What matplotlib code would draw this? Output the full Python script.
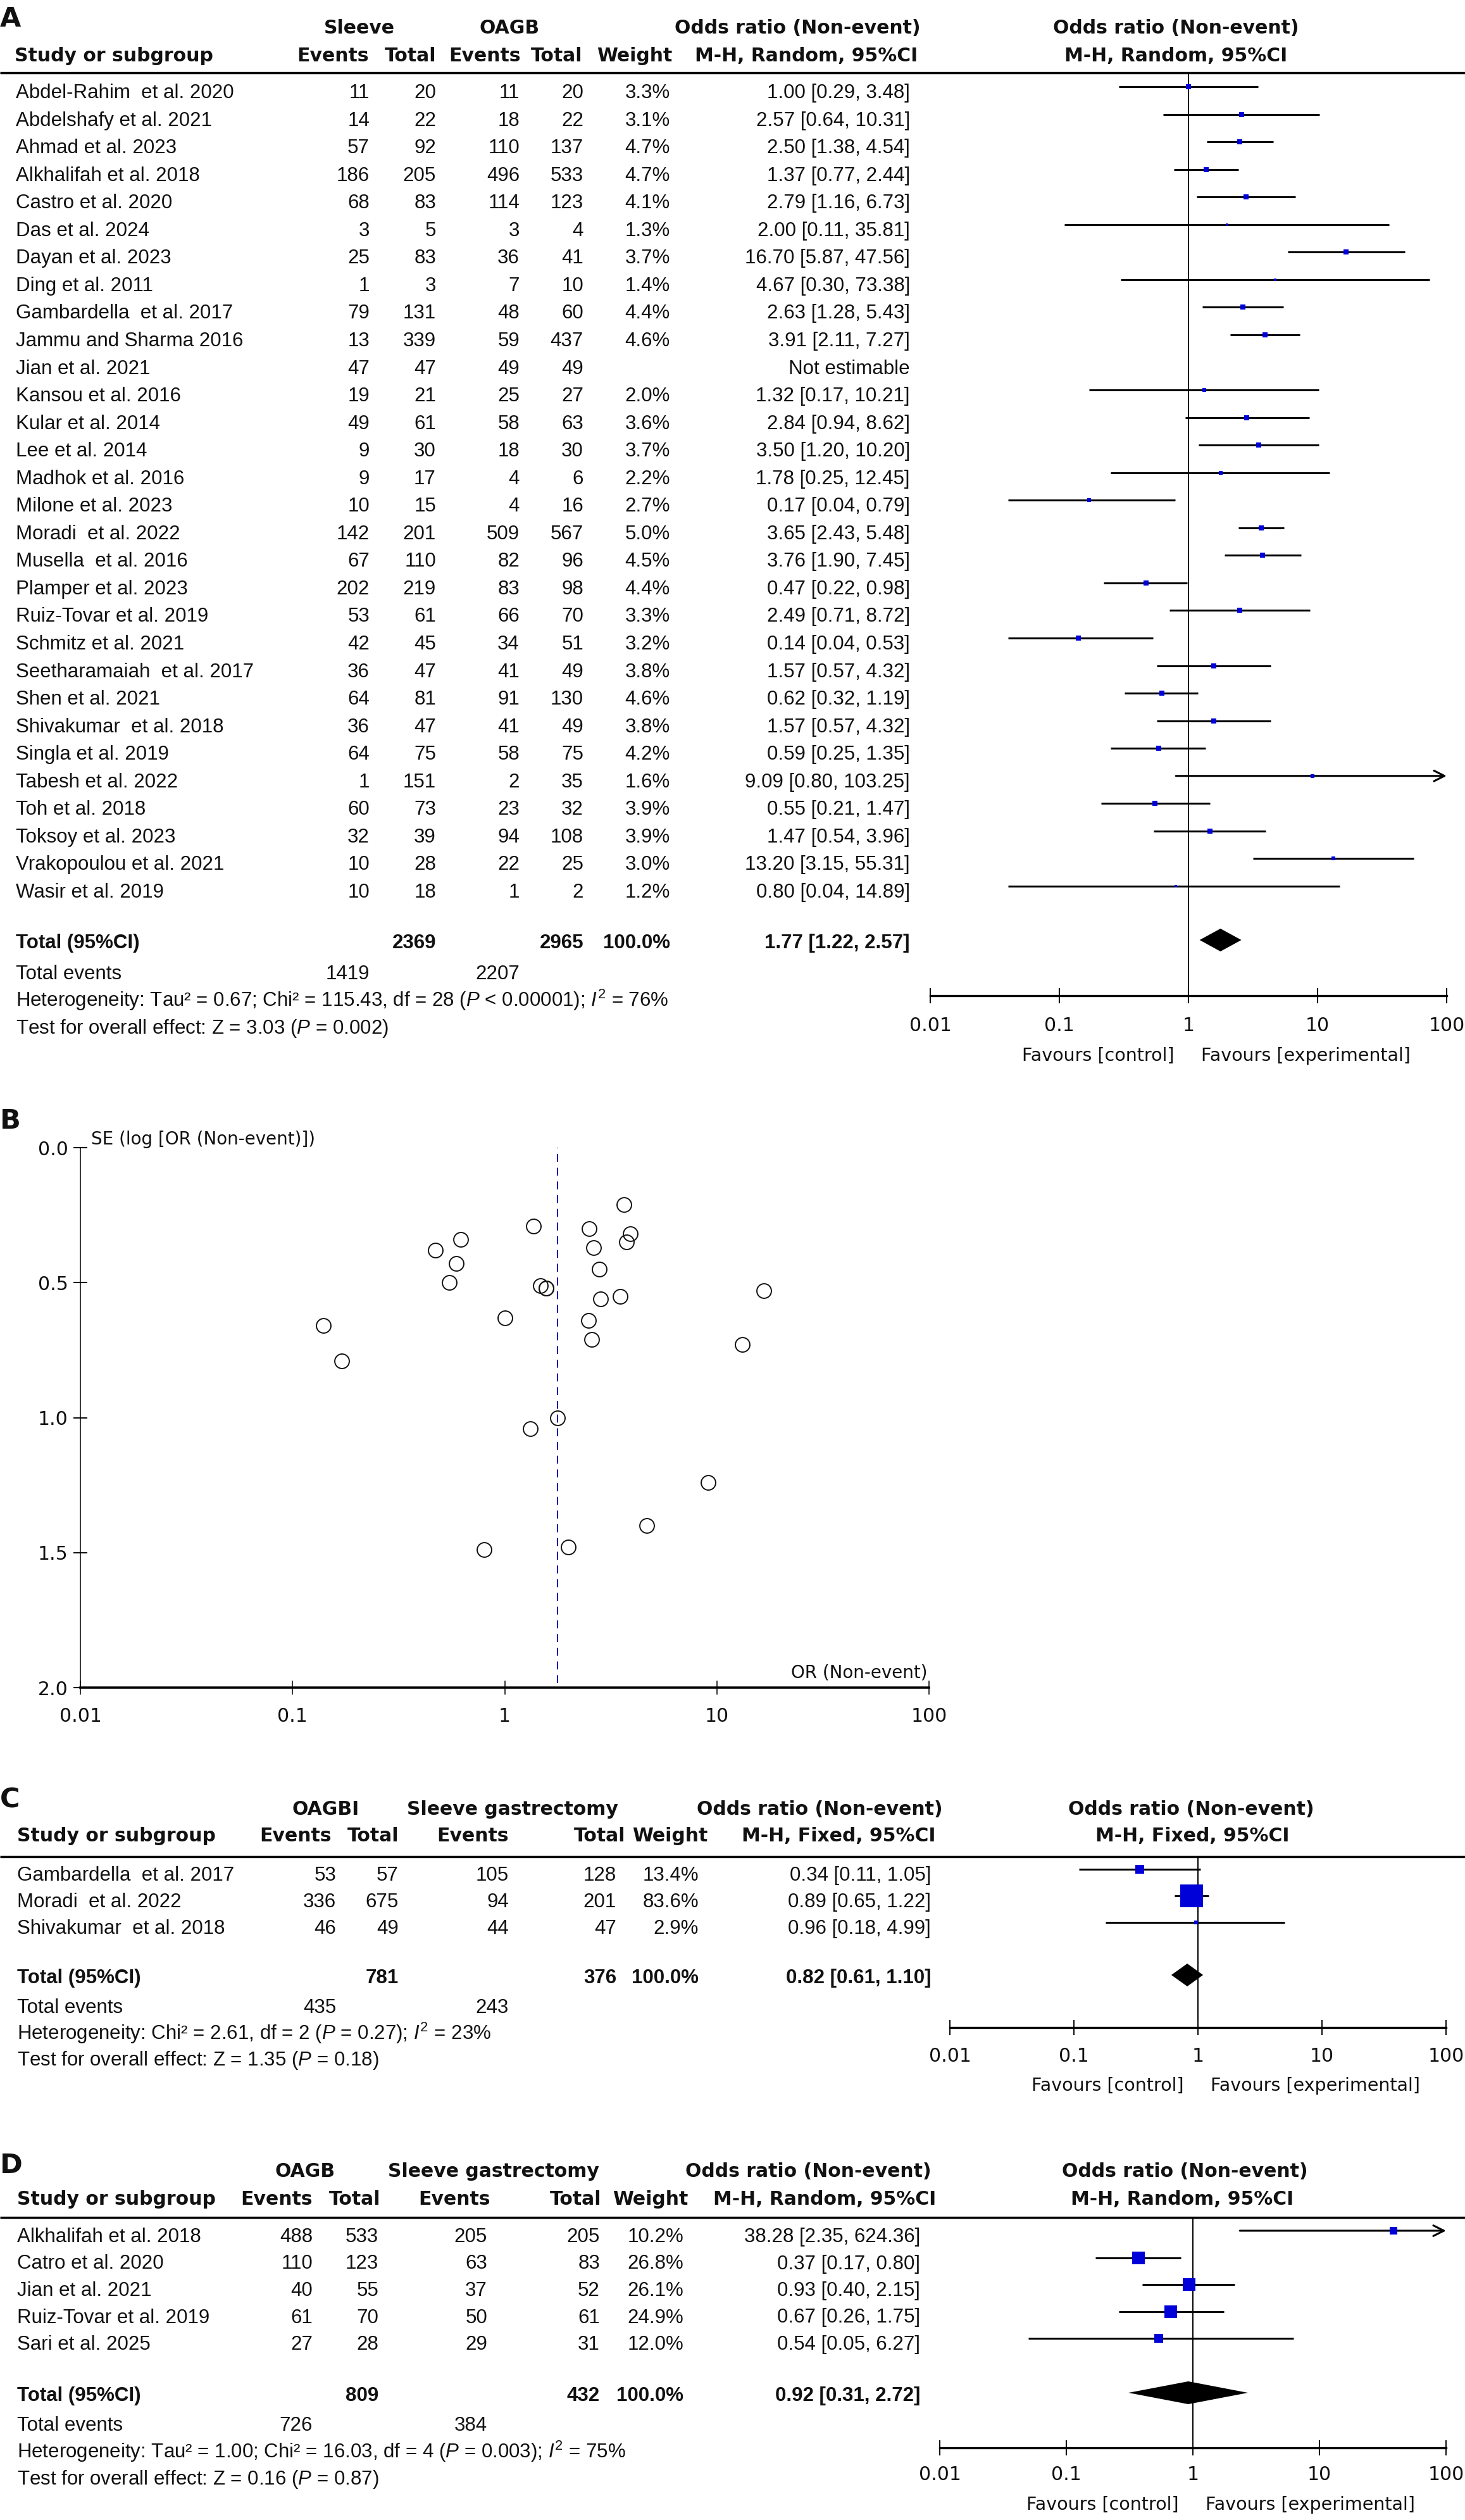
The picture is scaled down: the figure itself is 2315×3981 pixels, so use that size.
import numpy as np
import matplotlib
matplotlib.use('Agg')
import matplotlib.pyplot as plt
from matplotlib.ticker import NullLocator

#------------------------------------------------------------------------------#
'''
Forest plots (A, C, D) and funnel plot (B): non-event odds ratios,
sleeve gastrectomy vs OAGB.
'''
#------------------------------------------------------------------------------#

# Panel A: Sleeve vs OAGB
a_study = ['Abdel-Rahim  et al. 2020', 'Abdelshafy et al. 2021', 'Ahmad et al. 2023',
           'Alkhalifah et al. 2018', 'Castro et al. 2020', 'Das et al. 2024',
           'Dayan et al. 2023', 'Ding et al. 2011', 'Gambardella  et al. 2017',
           'Jammu and Sharma 2016', 'Jian et al. 2021', 'Kansou et al. 2016',
           'Kular et al. 2014', 'Lee et al. 2014', 'Madhok et al. 2016',
           'Milone et al. 2023', 'Moradi  et al. 2022', 'Musella  et al. 2016',
           'Plamper et al. 2023', 'Ruiz-Tovar et al. 2019', 'Schmitz et al. 2021',
           'Seetharamaiah  et al. 2017', 'Shen et al. 2021', 'Shivakumar  et al. 2018',
           'Singla et al. 2019', 'Tabesh et al. 2022', 'Toh et al. 2018',
           'Toksoy et al. 2023', 'Vrakopoulou et al. 2021', 'Wasir et al. 2019']
a_ev1  = [11, 14, 57, 186, 68, 3, 25, 1, 79, 13, 47, 19, 49, 9, 9,
          10, 142, 67, 202, 53, 42, 36, 64, 36, 64, 1, 60, 32, 10, 10]
a_tot1 = [20, 22, 92, 205, 83, 5, 83, 3, 131, 339, 47, 21, 61, 30, 17,
          15, 201, 110, 219, 61, 45, 47, 81, 47, 75, 151, 73, 39, 28, 18]
a_ev2  = [11, 18, 110, 496, 114, 3, 36, 7, 48, 59, 49, 25, 58, 18, 4,
          4, 509, 82, 83, 66, 34, 41, 91, 41, 58, 2, 23, 94, 22, 1]
a_tot2 = [20, 22, 137, 533, 123, 4, 41, 10, 60, 437, 49, 27, 63, 30, 6,
          16, 567, 96, 98, 70, 51, 49, 130, 49, 75, 35, 32, 108, 25, 2]
a_weight = [3.3, 3.1, 4.7, 4.7, 4.1, 1.3, 3.7, 1.4, 4.4, 4.6, np.nan, 2.0, 3.6, 3.7, 2.2,
            2.7, 5.0, 4.5, 4.4, 3.3, 3.2, 3.8, 4.6, 3.8, 4.2, 1.6, 3.9, 3.9, 3.0, 1.2]
a_or = [1.00, 2.57, 2.50, 1.37, 2.79, 2.00, 16.70, 4.67, 2.63, 3.91, np.nan, 1.32, 2.84, 3.50, 1.78,
        0.17, 3.65, 3.76, 0.47, 2.49, 0.14, 1.57, 0.62, 1.57, 0.59, 9.09, 0.55, 1.47, 13.20, 0.80]
a_lo = [0.29, 0.64, 1.38, 0.77, 1.16, 0.11, 5.87, 0.30, 1.28, 2.11, np.nan, 0.17, 0.94, 1.20, 0.25,
        0.04, 2.43, 1.90, 0.22, 0.71, 0.04, 0.57, 0.32, 0.57, 0.25, 0.80, 0.21, 0.54, 3.15, 0.04]
a_hi = [3.48, 10.31, 4.54, 2.44, 6.73, 35.81, 47.56, 73.38, 5.43, 7.27, np.nan, 10.21, 8.62, 10.20, 12.45,
        0.79, 5.48, 7.45, 0.98, 8.72, 0.53, 4.32, 1.19, 4.32, 1.35, 103.25, 1.47, 3.96, 55.31, 14.89]
a_totals = [2369, 2965]
a_events = [1419, 2207]
a_pooled = [1.77, 1.22, 2.57]
a_het  = r'Heterogeneity: Tau² = 0.67; Chi² = 115.43, df = 28 ($P$ < 0.00001); $I^2$ = 76%'
a_test = r'Test for overall effect: Z = 3.03 ($P$ = 0.002)'

# Panel B: funnel plot (OR, SE of log OR)
b_or = [1.00, 2.57, 2.50, 1.37, 2.79, 2.00, 16.70, 4.67, 2.63, 3.91, 1.32, 2.84, 3.50, 1.78, 0.17,
        3.65, 3.76, 0.47, 2.49, 0.14, 1.57, 0.62, 1.57, 0.59, 9.09, 0.55, 1.47, 13.20, 0.80]
b_se = [0.63, 0.71, 0.30, 0.29, 0.45, 1.48, 0.53, 1.40, 0.37, 0.32, 1.04, 0.56, 0.55, 1.00, 0.79,
        0.21, 0.35, 0.38, 0.64, 0.66, 0.52, 0.34, 0.52, 0.43, 1.24, 0.50, 0.51, 0.73, 1.49]
b_pooled = 1.77
b_yticks = [0.0, 0.5, 1.0, 1.5, 2.0]

# Panel C: OAGBI vs sleeve gastrectomy (fixed)
c_study = ['Gambardella  et al. 2017', 'Moradi  et al. 2022', 'Shivakumar  et al. 2018']
c_ev1  = [53, 336, 46]
c_tot1 = [57, 675, 49]
c_ev2  = [105, 94, 44]
c_tot2 = [128, 201, 47]
c_weight = [13.4, 83.6, 2.9]
c_or = [0.34, 0.89, 0.96]
c_lo = [0.11, 0.65, 0.18]
c_hi = [1.05, 1.22, 4.99]
c_totals = [781, 376]
c_events = [435, 243]
c_pooled = [0.82, 0.61, 1.10]
c_het  = r'Heterogeneity: Chi² = 2.61, df = 2 ($P$ = 0.27); $I^2$ = 23%'
c_test = r'Test for overall effect: Z = 1.35 ($P$ = 0.18)'

# Panel D: OAGB vs sleeve gastrectomy (random)
d_study = ['Alkhalifah et al. 2018', 'Catro et al. 2020', 'Jian et al. 2021',
           'Ruiz-Tovar et al. 2019', 'Sari et al. 2025']
d_ev1  = [488, 110, 40, 61, 27]
d_tot1 = [533, 123, 55, 70, 28]
d_ev2  = [205, 63, 37, 50, 29]
d_tot2 = [205, 83, 52, 61, 31]
d_weight = [10.2, 26.8, 26.1, 24.9, 12.0]
d_or = [38.28, 0.37, 0.93, 0.67, 0.54]
d_lo = [2.35, 0.17, 0.40, 0.26, 0.05]
d_hi = [624.36, 0.80, 2.15, 1.75, 6.27]
d_totals = [809, 432]
d_events = [726, 384]
d_pooled = [0.92, 0.31, 2.72]
d_het  = r'Heterogeneity: Tau² = 1.00; Chi² = 16.03, df = 4 ($P$ = 0.003); $I^2$ = 75%'
d_test = r'Test for overall effect: Z = 0.16 ($P$ = 0.87)'

or_ticks  = [0.01, 0.1, 1, 10, 100]
or_labels = ['0.01', '0.1', '1', '10', '100']

#------------------------------------------------------------------------------#

W, H = 2315, 3981
PT = 0.72            # points per pixel at dpi 100
BLUE = '#0000D8'
DASH = '#0000B0'
ROWF = 'Liberation Sans'
HEADF = 'DejaVu Sans'
ROWSZ = 22.5
HEADSZ = 21.5

plt.rcParams['mathtext.fontset'] = 'custom'
plt.rcParams['mathtext.rm'] = 'Liberation Sans'
plt.rcParams['mathtext.it'] = 'Liberation Sans:italic'

fig = plt.figure(figsize=(W / 100, H / 100), dpi=100)
canvas = fig.add_axes([0, 0, 1, 1])
canvas.set_xlim(0, W)
canvas.set_ylim(H, 0)
canvas.axis('off')


def put(x, y, s, ha='left', size=ROWSZ, bold=False, fam=ROWF):
    canvas.text(x, y, s, ha=ha, va='baseline', fontsize=size,
                fontweight='bold' if bold else 'normal', family=fam, color='#111111')


def table(cols, base0, step, study, ev1, tot1, ev2, tot2, wts, ors, los, his):
    for i in range(len(study)):
        y = base0 + i * step
        put(cols[0], y, study[i])
        put(cols[1], y, str(ev1[i]), 'right')
        put(cols[2], y, str(tot1[i]), 'right')
        put(cols[3], y, str(ev2[i]), 'right')
        put(cols[4], y, str(tot2[i]), 'right')
        if np.isnan(ors[i]):
            put(cols[6], y, 'Not estimable', 'right')
            continue
        put(cols[5], y, '%.1f%%' % wts[i], 'right')
        put(cols[6], y, '%.2f [%.2f, %.2f]' % (ors[i], los[i], his[i]), 'right')


def summary(cols, y_tot, y_ev, y_het, y_test, totals, events, pooled, het, test):
    put(cols[0], y_tot, 'Total (95%CI)', bold=True)
    put(cols[2], y_tot, str(totals[0]), 'right', bold=True)
    put(cols[4], y_tot, str(totals[1]), 'right', bold=True)
    put(cols[5], y_tot, '100.0%', 'right', bold=True)
    put(cols[6], y_tot, '%.2f [%.2f, %.2f]' % tuple(pooled), 'right', bold=True)
    put(cols[0], y_ev, 'Total events')
    put(cols[1], y_ev, str(events[0]), 'right')
    put(cols[3], y_ev, str(events[1]), 'right')
    put(cols[0], y_het, het)
    put(cols[0], y_test, test)


def headers(row1, row2, y1, y2, yline):
    for x, s in row1:
        put(x, y1, s, 'center', HEADSZ, True, HEADF)
    for x, s, ha in row2:
        put(x, y2, s, ha, HEADSZ, True, HEADF)
    canvas.plot([0, W], [yline, yline], color='black', lw=2.5, solid_capstyle='butt')


def forest(x0, x1, top, base, ys, ors, los, his, wts, pooled, pool_y, pad, y_fav):
    ax = fig.add_axes([x0 / W, 1 - base / H, (x1 - x0) / W, (base - top) / H])
    ax.patch.set_visible(False)
    ax.set_xscale('log')
    ax.set_xlim(0.01, 100)
    ax.set_ylim(base, top)
    for s in ['top', 'right', 'left']:
        ax.spines[s].set_visible(False)
    ax.spines['bottom'].set_linewidth(2.4)
    ax.set_xticks(or_ticks)
    ax.set_xticklabels(or_labels)
    ax.xaxis.set_minor_locator(NullLocator())
    ax.set_yticks([])
    ax.tick_params(axis='x', direction='inout', length=17, width=1.5, pad=pad,
                   labelsize=21.5, colors='#111111')
    ax.axvline(1, color='black', lw=1.4, zorder=1)
    for y, o, l, h, w in zip(ys, ors, los, his, wts):
        if np.isnan(o):
            continue
        if h > 100:
            ax.annotate('', xy=(100, y), xytext=(l, y), annotation_clip=False,
                        arrowprops=dict(arrowstyle='->', lw=2.2, color='black',
                                        shrinkA=0, shrinkB=0, mutation_scale=30))
        else:
            ax.plot([l, h], [y, y], color='black', lw=2.2, solid_capstyle='butt', zorder=2)
        ax.plot(o, y, 's', ms=4.0 * np.sqrt(w) * PT, color=BLUE, mew=0, zorder=3)
    e, l, h = pooled
    ax.fill([l, e, h, e], [pool_y, pool_y - 18, pool_y, pool_y + 18],
            color='black', lw=0, zorder=3)
    xm = 0.5 * (x0 + x1)
    put(xm - 22, y_fav, 'Favours [control]', 'right', 20.5, fam=HEADF)
    put(xm + 20, y_fav, 'Favours [experimental]', 'left', 20.5, fam=HEADF)
    return ax


#------------------------------------------------------------------------------#
# Panel A
put(0, 42, 'A', size=31, bold=True, fam=HEADF)
headers([(568, 'Sleeve'), (805, 'OAGB'), (1260, 'Odds ratio (Non-event)'),
         (1858, 'Odds ratio (Non-event)')],
        [(23, 'Study or subgroup', 'left'), (583, 'Events', 'right'), (689, 'Total', 'right'),
         (823, 'Events', 'right'), (920, 'Total', 'right'), (1062, 'Weight', 'right'),
         (1450, 'M-H, Random, 95%CI', 'right'), (1858, 'M-H, Random, 95%CI', 'center')],
        53, 97, 115)
a_cols = [25, 584, 689, 821, 922, 1059, 1438]
a_step = 43.55
table(a_cols, 155, a_step, a_study, a_ev1, a_tot1, a_ev2, a_tot2, a_weight, a_or, a_lo, a_hi)
summary(a_cols, 1498, 1547, 1590, 1633, a_totals, a_events, a_pooled, a_het, a_test)
a_ys = [137 + i * a_step for i in range(len(a_study))]
forest(1470, 2286, 115, 1573, a_ys, a_or, a_lo, a_hi, a_weight, a_pooled, 1485, 15, 1676)

#------------------------------------------------------------------------------#
# Panel B: funnel plot
put(0, 1783, 'B', size=31, bold=True, fam=HEADF)
bx0, bx1, btop, bbase = 127, 1468, 1813, 2666
axb = fig.add_axes([bx0 / W, 1 - bbase / H, (bx1 - bx0) / W, (bbase - btop) / H])
axb.patch.set_visible(False)
axb.set_xscale('log')
axb.set_xlim(0.01, 100)
axb.set_ylim(2.0, 0.0)
axb.spines['top'].set_visible(False)
axb.spines['right'].set_visible(False)
axb.spines['left'].set_linewidth(1.1)
axb.spines['bottom'].set_linewidth(2.6)
axb.set_xticks(or_ticks)
axb.set_xticklabels(or_labels)
axb.xaxis.set_minor_locator(NullLocator())
axb.set_yticks(b_yticks)
axb.set_yticklabels(['%.1f' % v for v in b_yticks])
axb.tick_params(axis='x', direction='inout', length=16, width=1.2, pad=14.5,
                labelsize=21.5, colors='#111111')
axb.tick_params(axis='y', direction='inout', length=16, width=1.5, pad=6,
                labelsize=21.5, colors='#111111')
axb.axvline(b_pooled, ymin=0.008, color=DASH, lw=1.3, ls=(0, (7, 5)), zorder=1)
axb.plot(b_or, b_se, 'o', ms=16.5, mfc='none', mec='#111111', mew=1.4, zorder=3,
         clip_on=False)
put(144, 1808, 'SE (log [OR (Non-event)])', size=20, fam=HEADF)
put(1466, 2651, 'OR (Non-event)', 'right', size=20, fam=HEADF)

#------------------------------------------------------------------------------#
# Panel C
put(0, 2855, 'C', size=31, bold=True, fam=HEADF)
headers([(515, 'OAGBI'), (810, 'Sleeve gastrectomy'), (1295, 'Odds ratio (Non-event)'),
         (1882, 'Odds ratio (Non-event)')],
        [(27, 'Study or subgroup', 'left'), (524, 'Events', 'right'), (630, 'Total', 'right'),
         (804, 'Events', 'right'), (988, 'Total', 'right'), (1118, 'Weight', 'right'),
         (1479, 'M-H, Fixed, 95%CI', 'right'), (1884, 'M-H, Fixed, 95%CI', 'center')],
        2867, 2909, 2933)
c_cols = [27, 531, 630, 804, 974, 1104, 1471]
c_step = 42
table(c_cols, 2971, c_step, c_study, c_ev1, c_tot1, c_ev2, c_tot2, c_weight, c_or, c_lo, c_hi)
summary(c_cols, 3133, 3180, 3222, 3263, c_totals, c_events, c_pooled, c_het, c_test)
c_ys = [2953 + i * c_step for i in range(len(c_study))]
forest(1501, 2285, 2933, 3203, c_ys, c_or, c_lo, c_hi, c_weight, c_pooled, 3120, 14, 3303)

#------------------------------------------------------------------------------#
# Panel D
put(0, 3433, 'D', size=31, bold=True, fam=HEADF)
headers([(482, 'OAGB'), (780, 'Sleeve gastrectomy'), (1277, 'Odds ratio (Non-event)'),
         (1872, 'Odds ratio (Non-event)')],
        [(27, 'Study or subgroup', 'left'), (494, 'Events', 'right'), (601, 'Total', 'right'),
         (775, 'Events', 'right'), (950, 'Total', 'right'), (1087, 'Weight', 'right'),
         (1479, 'M-H, Random, 95%CI', 'right'), (1868, 'M-H, Random, 95%CI', 'center')],
        3439, 3483, 3503)
d_cols = [27, 494, 598, 770, 948, 1080, 1454]
d_step = 42.5
table(d_cols, 3542, d_step, d_study, d_ev1, d_tot1, d_ev2, d_tot2, d_weight, d_or, d_lo, d_hi)
summary(d_cols, 3793, 3840, 3883, 3925, d_totals, d_events, d_pooled, d_het, d_test)
d_ys = [3524 + i * d_step for i in range(len(d_study))]
forest(1485, 2285, 3503, 3867, d_ys, d_or, d_lo, d_hi, d_weight, d_pooled, 3780, 12, 3965)

fig.savefig('out.png', dpi=100)
